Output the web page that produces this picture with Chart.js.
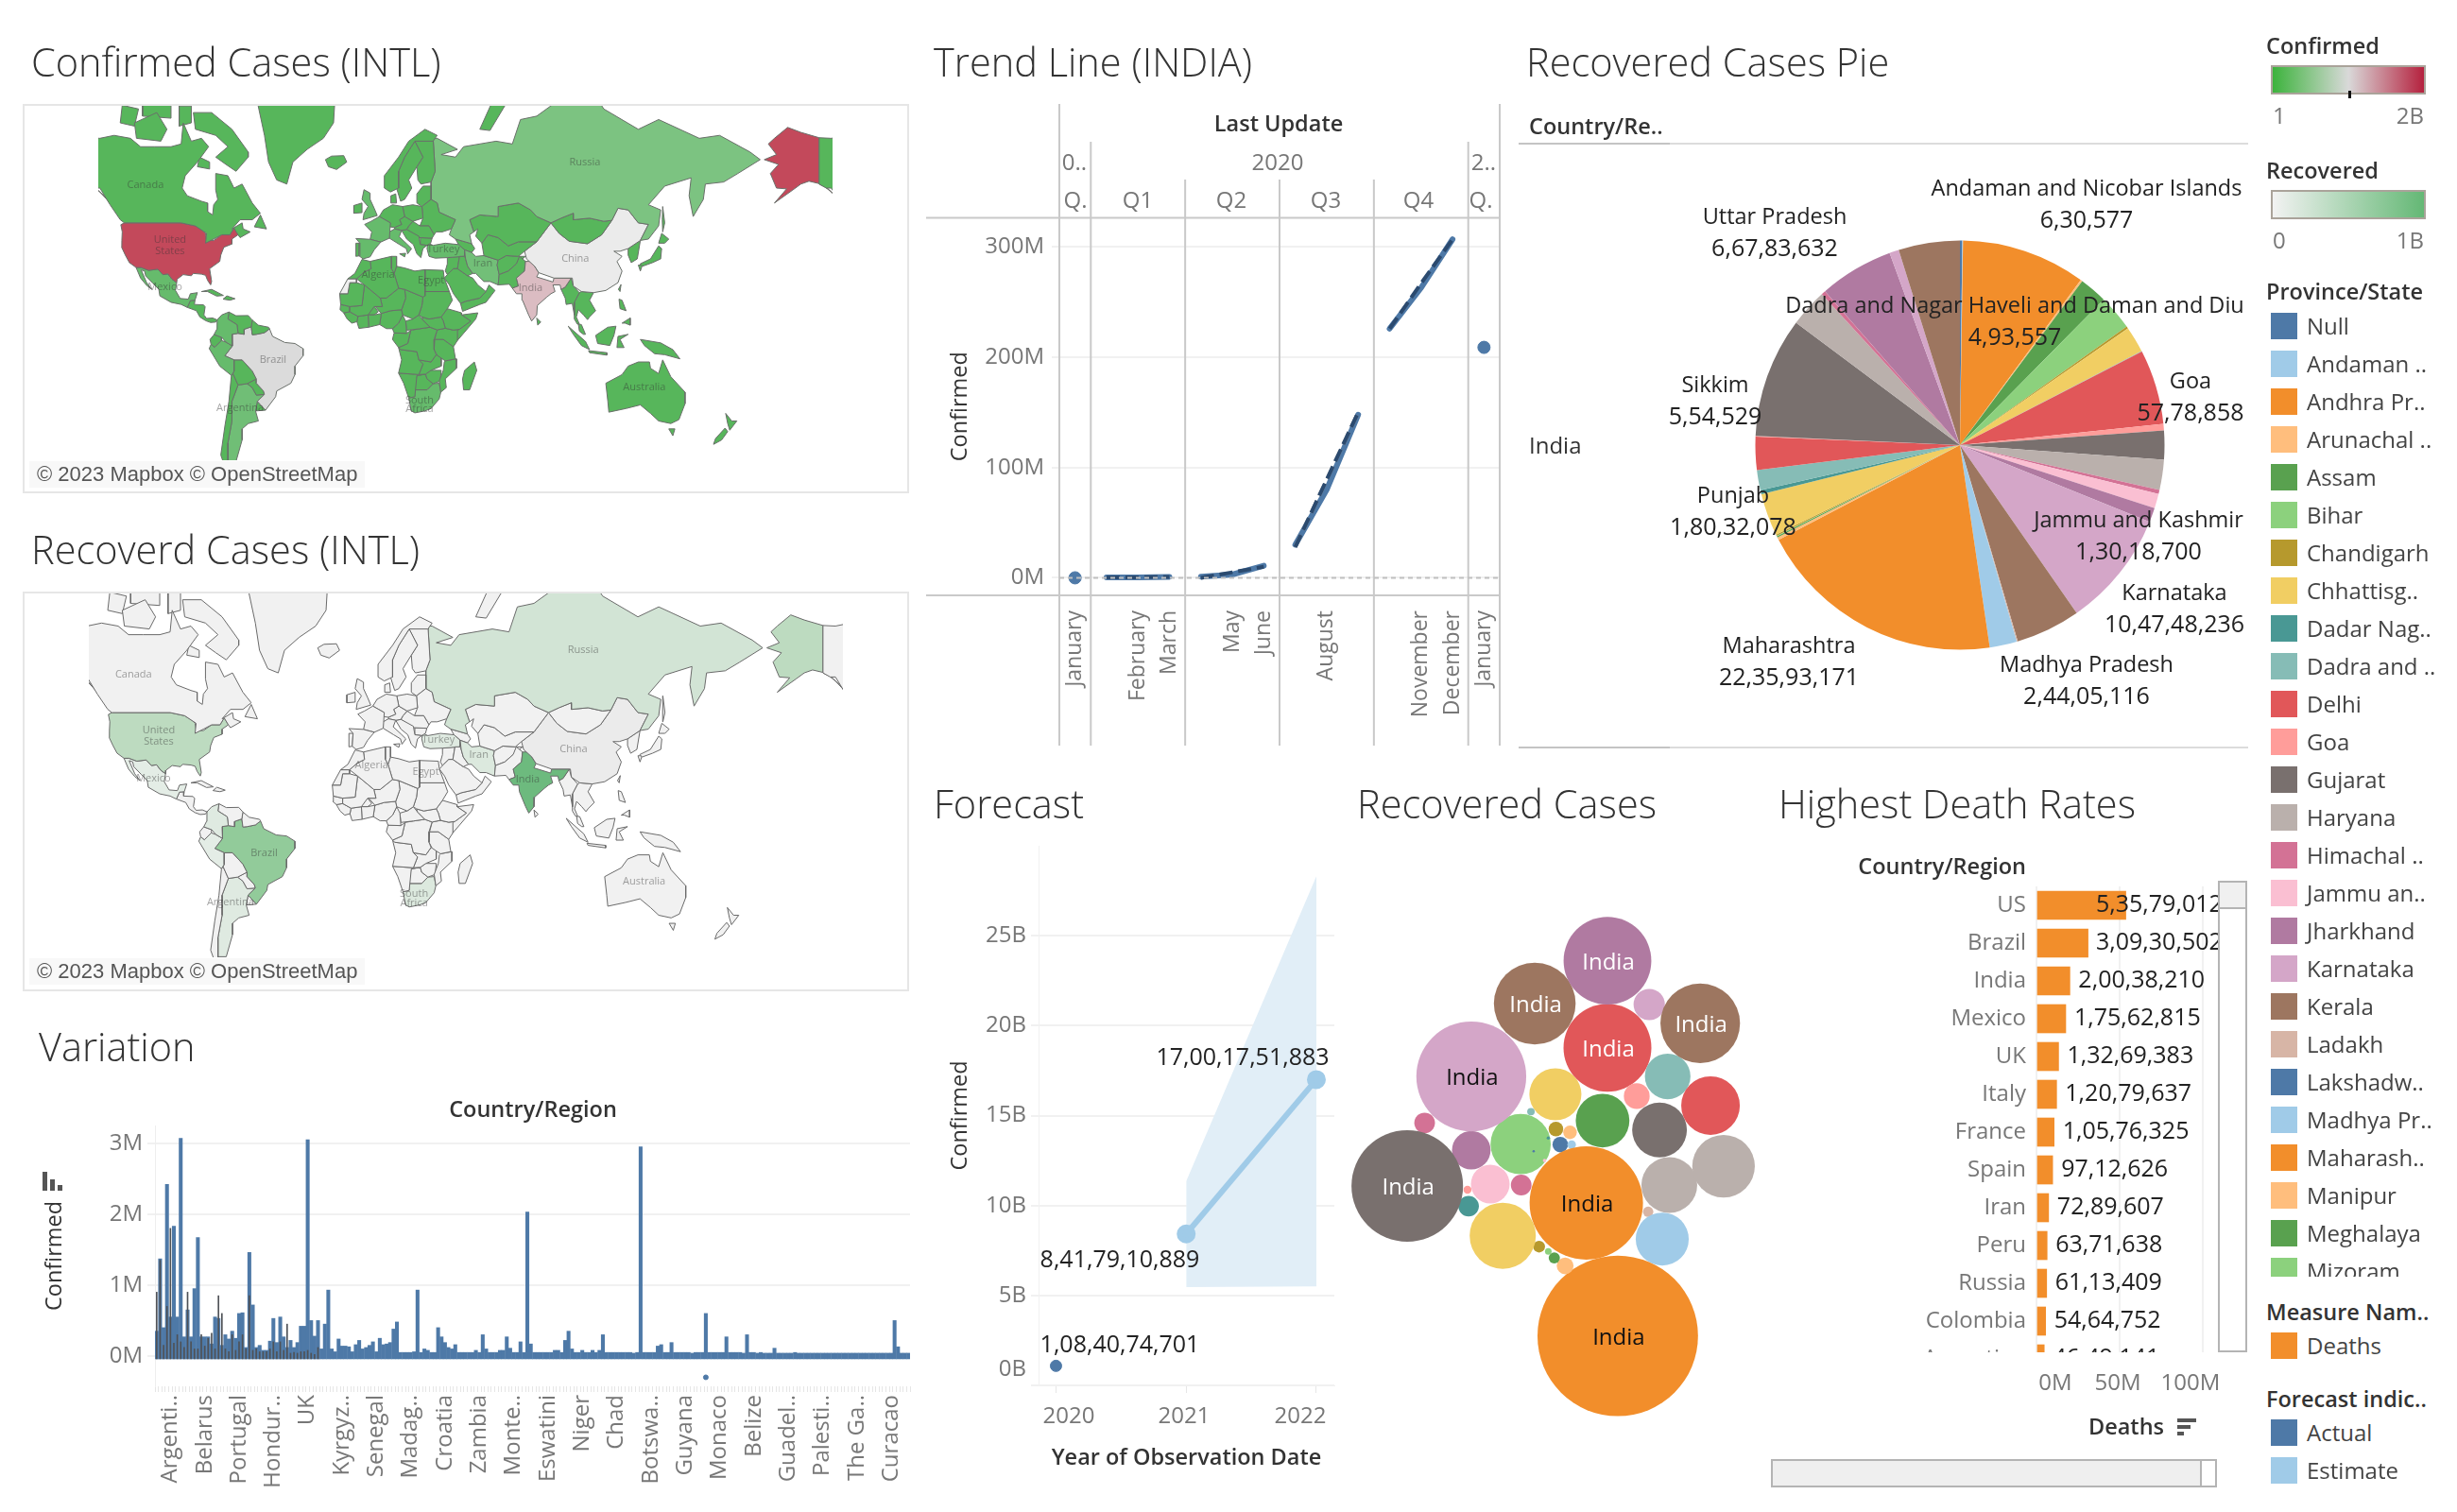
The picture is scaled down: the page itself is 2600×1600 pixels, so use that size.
<!DOCTYPE html>
<html>
<head>
<meta charset="utf-8">
<title>COVID-19 dashboard</title>
<script src="https://cdn.jsdelivr.net/npm/chart.js@4"></script>
<style>
  html, body { margin: 0; background: #fff; }
  body { position: relative; width: 2600px; height: 1600px; overflow: hidden; font-family: "Open Sans", sans-serif; }
  canvas { position: absolute; }
  .txt { position: absolute; white-space: nowrap; line-height: 1; }
  .box { position: absolute; box-sizing: border-box; }
</style>
</head>
<body>
<script>
// ---- data ----
const tableau20 = ['#4E79A7','#A0CBE8','#F28E2B','#FFBE7D','#59A14F','#8CD17D','#B6992D','#F1CE63','#499894','#86BCB6',
  '#E15759','#FF9D9A','#79706E','#BAB0AC','#D37295','#FABFD2','#B07AA1','#D4A6C8','#9D7660','#D7B5A6'];

const provinces = ['Null','Andaman and Nicobar Islands','Andhra Pradesh','Arunachal Pradesh','Assam','Bihar','Chandigarh','Chhattisgarh',
  'Dadar Nagar Haveli','Dadra and Nagar Haveli and Daman and Diu','Delhi','Goa','Gujarat','Haryana','Himachal Pradesh','Jammu and Kashmir',
  'Jharkhand','Karnataka','Kerala','Ladakh','Lakshadweep','Madhya Pradesh','Maharashtra','Manipur','Meghalaya','Mizoram','Nagaland','Odisha',
  'Puducherry','Punjab','Rajasthan','Sikkim','Tamil Nadu','Telangana','Tripura','Unknown','Uttar Pradesh','Uttarakhand','West Bengal'];
const recoveredValues = [2100000,630577,111600000,1600000,25000000,31500000,1850000,23500000,
  100000,493557,67000000,5778858,26000000,27000000,3700000,13018700,
  12900000,104748236,58000000,930000,50000,24405116,223593171,2450000,1100000,380000,1200000,38000000,
  3700000,18032078,29800000,554529,108000000,34000000,3700000,100000,66783632,8500000,55000000];
// packed bubble layout (axis units)
const bubbleX = [1169,1190,1217,1187,1247,1096,1161,1160,1147,1115,1256,1310,1352,1370,919,1040,1005,1005,1122,1331,1120,1357,1275,1178,1158,1147,1130,1063,1000,1367,1446,998,887,1470,1097,1140,1256,1333,1427];
const bubbleY = [786,786,910,760,735,785,753,679,772,716,580,683,755,872,740,870,798,641,486,929,800,987,1193,1044,1027,1013,1003,980,917,641,703,882,874,832,872,820,395,488,528];
const bubbleBlackLabels = ['Karnataka','Andhra Pradesh','Maharashtra'];

const legendProvinceNames = ['Null','Andaman ..','Andhra Pr..','Arunachal ..','Assam','Bihar','Chandigarh','Chhattisg..','Dadar Nag..','Dadra and ..',
  'Delhi','Goa','Gujarat','Haryana','Himachal ..','Jammu an..','Jharkhand','Karnataka','Kerala','Ladakh','Lakshadw..','Madhya Pr..','Maharash..','Manipur','Meghalaya','Mizoram'];

const deathCountries = ['US','Brazil','India','Mexico','UK','Italy','France','Spain','Iran','Peru','Russia','Colombia','Argentina'];
const deathValues = [53579012,30930502,20038210,17562815,13269383,12079637,10576325,9712626,7289607,6371638,6113409,5464752,4649141];

const forecastYears = [2020,2021,2022];
const forecastActual = [1.084,null,null];
const forecastEstimate = [null,8.418,17.0];
const forecastUpper = [null,11.35,28.3];
const forecastLower = [null,5.46,5.5];

const trendMonths = ['January','','February','March','','May','June','','August','','','November','December','January'];
const trendYTicks = [0,100,200,300];
const trendJan20 = [0,null,null,null,null,null,null,null,null,null,null,null,null,null];
const trendQ1 = [null,0.3,0.4,0.9,null,null,null,null,null,null,null,null,null,null];
const trendQ2 = [null,null,null,null,1,3,11,null,null,null,null,null,null,null];
const trendQ3 = [null,null,null,null,null,null,null,30,80,148,null,null,null,null];
const trendQ4 = [null,null,null,null,null,null,null,null,null,null,226,263,307,null];
const trendJan21 = [null,null,null,null,null,null,null,null,null,null,null,null,null,209];
const trendFitQ2 = [null,null,null,null,0,5,10,null,null,null,null,null,null,null];
const trendFitQ3 = [null,null,null,null,null,null,null,28,89,150,null,null,null,null];
const trendFitQ4 = [null,null,null,null,null,null,null,null,null,null,226,267,307,null];

const variationLabels = ['Argenti..','Belarus','Portugal','Hondur..','UK','Kyrgyz..','Senegal','Madag..','Croatia','Zambia','Monte..','Eswatini','Niger','Chad','Botswa..','Guyana','Monaco','Belize','Guadel..','Palesti..','The Ga..','Curacao'];
const variationYTicks = [0,1,2,3];
const variationValues = [
  .35,1.37,.4,2.42,.55,1.83,.55,3.07,.27,.65, .27,.95,1.67,.27,.27,.27,.17,.55,.53,.15,
  .3,.24,.35,.25,.6,.61,.12,1.46,.72,.12, .15,.08,.08,.21,.53,.19,.55,.27,.12,.22,
  .12,.19,.42,.42,3.05,.5,.28,.5,.1,.45, .93,.1,.06,.24,.14,.14,.13,.06,.16,.22,
  .1,.12,.15,.2,.06,.25,.16,.17,.19,.38, .48,.05,.05,.05,.05,.06,.93,.05,.1,.08,
  .05,.05,.4,.27,.19,.12,.1,.16,.05,.05, .05,.05,.05,.08,.05,.3,.1,.05,.05,.05,
  .08,.08,.27,.11,.05,.05,.2,.05,2.03,.17, .05,.05,.05,.05,.05,.05,.08,.08,.05,.22,
  .35,.1,.05,.05,.08,.05,.05,.08,.05,.08, .3,.05,.05,.05,.05,.05,.05,.05,.05,.04,
  .05,2.95,.05,.05,.05,.05,.14,.16,.05,.05, .19,.05,.05,.05,.05,.05,.04,.05,.05,.05,
  .6,.05,.05,.05,.05,.05,.27,.05,.05,.05, .05,.04,.3,.05,.05,.04,.05,.04,.04,.04,
  .11,.04,.04,.04,.04,.04,.05,.04,.04,.04, .04,.04,.04,.04,.04,.04,.04,.04,.04,.04,
  .04,.04,.04,.04,.04,.04,.04,.04,.04,.04, .04,.04,.04,.04,.04,.5,.13,.04,.04,.04];
const variationDarkIndex = [0,1,2,3,5,6,7,8,10,11,12,14,16,18,20,22,24,26,27,28,30,33,36,39,42,44,46,50,54,58,62,66,70,76,82,90,95,102,108,114,120,130,141,150,160,172,190,215];
const variationDarkValues = [.9,1.35,.15,.7,1.8,.18,.3,.2,.12,.9,.2,.1,.1,.3,.14,.25,.32,.1,.85,.6,.1,.06,.3,.08,.2,.3,.1,.85,.08,.1,.06,.06,.06,.1,.2,.06,.2,.08,.45,.04,.05,.04,.06,.06,.08,.04,.02,.12];
const variationNegIndex = 160;
const variationNegValue = -0.3;

// ---- map outlines, lon/lat pairs ----
const canada = [-141,69.6,-135,69.5,-128,70,-120,69.5,-115,68,-108,68,-100,68,-95,68.5,-94,72,-90,69,-85,69.5,-81.5,68,-87,65,-93,62,-94.5,59,-92,57,-85,55.5,-82,55,-82,52.5,-79.5,51.5,-79,54.5,-77,56,-78,58.5,-78,62.5,-72,62,-69,59,-65,60,-60,55,-56,52,-60,50,-66,50,-70,47,-65,49,-64.5,47,-61,46,-66,44,-67,45,-69,47.3,-71,45,-75,45,-79,43.5,-83,42,-82.5,45.5,-88,48,-95,49,-123,49,-125,50,-130,54.5,-135,59,-137.5,59,-141,60];
const baffin = [-62,66,-68,63,-73,64.5,-78,66,-72,68,-78,70,-88,71,-89,73.5,-80,73.5,-70,71,-62,67];
const victoriaIsland = [-117,69.5,-105,69,-102,71,-107,73.5,-118,72];
const banksIsland = [-125,72,-118,71.5,-116,74,-124,74.5];
const somersetIsland = [-96,71.5,-90,72,-90,74.4,-96,74.4];
const melvilleIsland = [-114,73,-100,72.7,-100,74.6,-114,74.6];
const southampton = [-87,64,-81,63.5,-81,65,-86,66];
const newfoundland = [-59,47.7,-56,51.5,-53,47];
const usa48 = [-124.7,48.4,-123,49,-95,49,-88,48,-84.5,46.5,-83,45.5,-82.5,43,-79,43,-75,45,-71,45,-69,47.3,-67,45,-70,43.5,-70,41.7,-74,40.5,-75.5,37.5,-76,35,-81,32,-80,26.5,-80.5,25,-82,27,-83,29.2,-85,29.7,-89,30,-90,29,-94,29.5,-97,27.5,-97.2,26,-99.5,27.5,-101.5,29.8,-104,29.5,-106.5,31.8,-111,31.3,-114.8,32.5,-117.2,32.5,-120.5,34.5,-122.5,37.5,-124.3,40.5,-124.2,43,-124,46];
const alaska = [-141,69.6,-150,70.5,-156.5,71.3,-163,69.5,-166,68.5,-162,66.5,-168,65.5,-161,64.5,-165,62.5,-162,59,-157,58.8,-163,55,-154,58.5,-150,60,-146,60.7,-140,60,-135,58,-130,55,-133,57,-137,59,-141,60];
const mexico = [-117.2,32.5,-114.8,32.5,-111,31.3,-106.5,31.8,-104,29.5,-101.5,29.8,-99.5,27.5,-97.2,26,-97.8,22.5,-95.5,18.8,-91.5,18.5,-90.5,21,-87,21.5,-88.2,18,-90.5,17.8,-92,14.6,-95,16,-100,17,-105.5,20,-106,23,-109,25.8,-112.5,29,-113,31,-114.7,31.5,-112,26,-109.5,23,-112,24.8,-115,28];
const centralAmerica = [-92,14.6,-90.5,17.8,-88.2,18,-88.5,16,-84,15.8,-83.2,14.9,-83.8,11,-82.5,9.3,-79.5,9.5,-77.3,8.6,-78,7.5,-80.5,7.3,-83,8.2,-85.8,10,-87.5,13];
const cuba = [-85,22,-80,23,-74.2,20.2,-77.5,19.9,-82,22];
const hispaniola = [-74.4,18.5,-72.5,20,-68.5,18.7,-71,18];
const greenland = [-73,78.3,-60,82,-30,83.5,-18,80,-20,72,-25,69.5,-33,67.5,-40,65,-43,60,-48,61,-52,65,-54,70,-58,75.5,-68,76];
const iceland = [-24,65.5,-21,66.2,-15,66.3,-13.5,65,-18.5,63.4,-22.5,64];
const colombia = [-77.3,8.6,-75,11,-71.5,12.4,-72,9,-67.5,6.2,-67,2,-70,1.5,-69.8,-4.2,-73,-2.3,-75,0,-78.8,1.4,-77.5,4];
const venezuela = [-71.5,12.4,-68,10.6,-62,10.7,-60,8.5,-60.5,5.2,-64,4,-64,1.5,-67,2,-67.5,6.2,-72,9];
const guianas = [-60,8.5,-57,6,-52,5,-51.5,4.2,-54,2.3,-58,1.5,-60,1.3,-60.5,5.2];
const ecuador = [-78.8,1.4,-75,0,-75.2,-1.5,-78.5,-4.8,-80.3,-3.4,-80.8,-1];
const peru = [-80.3,-3.4,-78.5,-4.8,-75.2,-1.5,-73,-2.3,-69.8,-4.2,-73.5,-9,-69,-11,-69,-16.5,-70.3,-18.4,-76,-14,-81.2,-5.5];
const brazil = [-60.5,5.2,-60,1.3,-58,1.5,-54,2.3,-51.5,4.2,-50,0.5,-44,-2.5,-39,-3,-35,-5.5,-35,-9,-39,-14,-39,-18,-41,-22,-48,-25.5,-48.5,-28,-53.5,-33.7,-57.5,-30,-54,-27,-54.5,-25.5,-58,-22,-58,-20,-60,-16.3,-65,-11,-69,-11,-73.5,-9,-69.8,-4.2,-70,1.5,-67,2,-64,1.5,-64,4];
const bolivia = [-69,-11,-65,-11,-60,-16.3,-58,-20,-62.5,-22.2,-67,-22.8,-69.5,-17.5,-69,-16.5];
const paraguay = [-58,-20,-58,-22,-54.5,-25.5,-54,-27,-58,-27.3,-60,-24,-62.5,-22.2];
const chile = [-70.3,-18.4,-69.5,-17.5,-67,-22.8,-70,-30,-70,-38,-72,-46,-72,-56,-75.5,-50,-73.5,-40,-71.5,-30];
const argentina = [-67,-22.8,-62.5,-22.2,-60,-24,-58,-27.3,-54,-27,-57.5,-30,-58.4,-34,-57,-38,-62,-39,-65,-41,-65,-45,-68,-52,-72,-52,-72,-46,-70,-38,-70,-30];
const uruguay = [-57.5,-30,-53.5,-33.7,-58.4,-34];
const morocco = [-13,27.7,-9.5,30,-6,35.8,-2,35,-1.5,32,-5,30.5,-8.7,27.7];
const westernSahara = [-17,21,-13,27.7,-8.7,27.7,-8.7,26,-12,26,-13,21];
const algeria = [-8.7,27.7,-5,30.5,-1.5,32,-2,35,8.5,37,8.5,32,9.8,30,12,23.5,6,19,3,19,-4.8,25];
const tunisia = [8.5,37,11,37,11,33,9.8,30,8.5,32];
const libya = [11,33,15,32.3,20,31,25,31.6,25,20,24,19.5,15,23,12,23.5,9.8,30];
const egypt = [25,31.6,34,31.3,34.5,28,37,22,25,22];
const mauritania = [-17,21,-13,21,-12,26,-8.7,26,-4.8,25,-6,15.5,-12,15,-16.5,16];
const mali = [-4.8,25,3,19,4,15,0,15,-3,11,-8,10.3,-12,12.5,-12,15,-6,15.5];
const niger = [3,19,6,19,12,23.5,15,23,15.5,19,13.5,13.5,8,13,3.5,11.7,0.5,15,4,15];
const chad = [15,23,24,19.5,23.5,15.5,22,11,19,9,14,11,13.5,13.5,15.5,19];
const sudan = [24,19.5,25,22,37,22,38.5,18,36,14,33,10,27,9,23.5,10,22,11,23.5,15.5];
const southSudan = [23.5,10,27,9,33,10,34,8,35,4.5,31,3.7,27.5,5,24,8.5];
const ethiopia = [36,14,43,12,43,11,47.5,8,42,4,39,3.6,35,4.5,34,8,33,10];
const somalia = [43,11,51,12,50,9,41,-1.5,41,3.5,42,4,47.5,8];
const senegal = [-16.5,16,-12,15,-12,12.5,-15,12,-16.8,13.5];
const guinea = [-15,12,-12,12.5,-8,10.3,-8.5,7.7,-11,7,-13.3,9];
const coteDIvoire = [-8,10.3,-3,11,-2.7,5,-7.5,4.4,-8.5,7.7];
const ghanaBenin = [-3,11,0,11,3.5,11.7,2.7,6.3,-2.7,5];
const burkina = [-5,11,-3,13.5,0,15,2,12.5,0,11];
const nigeria = [3.5,11.7,8,13,13.5,13.5,14,11,12,7,9,4.3,6,4.3,2.7,6.3];
const cameroon = [14,11,15.5,8,16,2,9.8,2.2,9,4.3,12,7];
const centralAfrica = [15.5,8,19,9,22,11,24,8.5,27.5,5,22,4.2,16,3.5];
const gabonCongo = [9.8,2.2,16,2,18,3.5,16.5,-3,12,-5,9,-1];
const drCongo = [18,3.5,22,4.2,27.5,5,31,3.7,29.5,-1,29.5,-6,30.5,-8.5,28,-12,22,-11,21,-7,13,-6,12,-5,16.5,-3];
const ugandaKenya = [31,3.7,35,4.5,39,3.6,42,4,41,-1.5,39,-4.6,34,-1,29.8,-1];
const tanzania = [29.8,-1,34,-1,39,-4.6,40,-10.5,35,-11.5,31,-8.8,29.5,-6];
const angola = [12,-5,13,-6,21,-7,22,-11,24,-13,22,-18,12,-17.3,13.5,-11];
const zambia = [22,-11,28,-12,30.5,-8.5,33,-9.5,33,-14,28,-16,25.3,-17.8,22,-18,24,-13];
const mozambique = [35,-11.5,40.5,-10.5,40.5,-15,35,-20,35.5,-24,32.8,-26,32,-21,34,-16,34.5,-12];
const zimbabwe = [25.3,-17.8,28,-16,33,-16,32.5,-21,29,-22.2,26,-20];
const namibia = [12,-17.3,22,-18,25.3,-17.8,21,-18.5,20,-28,17,-28.6,14.5,-22];
const botswana = [21,-18.5,25.3,-17.8,26,-20,29,-22.2,26,-25,20,-25,20,-22];
const southAfrica = [17,-28.6,20,-28,20,-25,26,-25,29,-22.2,32,-22,32.8,-26,32,-29,28,-33,25,-34,20,-34.8,18.3,-34];
const madagascar = [49.3,-12,50.5,-16,47,-25,44,-25,43.5,-20,44.5,-16];
const spain = [-9,43.7,-2,43.4,3.2,42.4,0,39.5,-2,36.8,-5.5,36,-7.4,37.2,-7,42];
const portugal = [-9,42,-7,42,-7.4,37.2,-9,37];
const france = [-4.7,48.5,-1.5,49.5,2.5,51,8,49,7.5,43.8,3.2,42.4,-2,43.4,-1.2,46];
const uk = [-5.5,50,1.5,51.3,0,53.5,-2,56,-2,57.7,-5,58.6,-6,56,-3,54,-5,52];
const ireland = [-10,52,-6,52.2,-6,55,-10,54.3];
const germanyBenelux = [2.5,51,4.5,53,9,54.5,14,54,15,51,12.5,50,13.5,48.5,10,47.5,7.5,47.7,8,49];
const denmark = [8.2,55,8.2,57,10.6,57.5,11,55];
const italy = [7.5,43.8,7,45.8,10,47,13.5,46.5,12.3,44.3,16,41.8,18.4,40,16.5,38,15.8,40,12.5,41.5];
const sicily = [12.5,38,15.5,38.2,15,36.8];
const poland = [14,54,19,54.5,23.5,54,24,50.5,19,49.5,15,51];
const czechAustria = [12.5,50,15,51,19,49.5,17,48,16,46.8,13.5,46.5,10,47,10,47.5,13.5,48.5];
const balkans = [13.5,46.5,16,46.8,22,44.5,22.7,41.5,26,41.2,24,40,23,36.5,21,38,19.3,41.5,16,43.5];
const hungaryRomania = [17,48,19,49.5,22.5,48,27,48,29.5,45,28.5,43.8,22,44,16,46.8];
const bulgaria = [22.7,44,28.5,43.8,27.8,42,26,41.2,22.7,41.5];
const ukraine = [23.5,54,28,56,31,55,32,52.3,40,50,38,47,33.5,46,30.5,46,29.5,45,27,48,22.5,48,24,50.5];
const baltics = [21,55,21,57.5,24,59.5,28,59.5,28,56,23.5,54];
const norway = [5,59,5,62,12,66,17,69,25,71,31,70,29,69,20,69,15,66,12,63,12,59,8,58];
const sweden = [11,59,12,63,15,66,20,69,24,66,21,64,17,61,18.5,59,15,56,13,55.5];
const finland = [20,69,29,69.5,30,63,28,60.5,23,60,21.5,61,21,64,24,66];
const russia = [28,59.5,28,56,31,55,32,52.3,40,50,38,47,37,45,40,43.5,48,41.8,47,45,49,46,47,50,52,51.5,61,51,61,54,71,55,77,53,80,51,87,49,92,50.5,98,52,98,50,106,50.5,113,49.5,117,49.8,120,53.5,125,53,130,49,135,48.5,131,43,135,43.5,140,48,141,53,135,54.5,143,59.5,156,61.5,155,57,157,51,162,56,163,60,172,60.5,179,62.5,190,65.5,185,67,170,70,160,69.5,140,72.5,130,71,113,74,104,77.5,90,75,80,73,72,72.5,68,68.5,60,69,44,68,40,66,33,66.5,41,67.5,31,69.5,29,69.5,30,63,28,60.5];
const sakhalin = [142,54,143,49,142,46,141.8,50];
const novayaZemlya = [52,71,57,70.8,68,76,60,76];
const kazakhstan = [47,50,52,51.5,61,51,61,54,71,55,77,53,80,51,87,49,80,42.5,71,42.5,66,41,61,44,56,45,53,42,50,44.5,51,47,49,46];
const centralAsia = [53,42,56,45,61,44,66,41,71,42.5,80,42.5,74,39,71,37,65,37.3,61,35.5,54,37.3];
const mongolia = [87,49,92,50.5,98,52,98,50,106,50.5,113,49.5,117,49.8,112,45,105,41.8,96,42.7,91,45.5];
const china = [74,39,80,42.5,87,49,91,45.5,96,42.7,105,41.8,112,45,117,49.8,120,53.5,125,53,130,49,135,48.5,131,43,125,40,121,39,118,39,122,37,119.5,35,122,31,120,26,114,22.5,108,21.5,102,22,98,24.5,97.5,28,88.5,28,81,30.3,79,33,75,36];
const korea = [125,40,131,43,129.5,36,126.5,34.5,125,37.5];
const honshu = [130.9,34,136,36,140,41,141.5,40,141,36,137,34.5,132,33];
const hokkaido = [140,42,141.5,45.5,145,43.5,143,42];
const kyushu = [130,33.5,132,33.5,131,31];
const taiwan = [120.2,23,121.5,25.2,121,22];
const india = [68,23.5,71,24.5,70,28,74,31,74.5,35,78,35,79,33,81,30.3,80,28.5,88,26.3,88.5,28,92,28,97,28,94,24,92,23,91.5,25,88,25,89,22,87,21,85,19.5,80.3,15.5,80,11,77.5,8,76,11,73,18,72.7,21,70,21];
const pakistan = [61,25,61.5,29.5,66,31,70,34,71.5,37,74.5,35,74,31,70,28,71,24.5,68,23.5,66.5,25.3];
const afghanistan = [61,35.5,65,37.3,71,37,74.5,37,70,34,66,31,61.5,29.5,60.5,33.5];
const iran = [44.5,39.5,48,38.5,50,37,54,37.3,61,35.5,60.5,33.5,61.5,29.5,61,25,57,26.5,54,26.5,50,30,48.5,30,46,33,45,36];
const iraq = [42,37,44.5,37,45,36,46,33,48.5,30,46,29,41,32];
const turkey = [26,40,26.5,42,29,41.2,35,42,41.5,41.5,44.5,39.5,44.5,37,36,36.5,30,36.3,27,37];
const caucasus = [40,43.5,48,41.8,49.5,40,48,38.5,44.5,39.5,41.5,41.5];
const saudiArabia = [34.5,28,36,29.5,39,32,41,32,46,29,48.5,28,51,25,55,22,52,19,45,17.5,42.5,16.5,39,21,37,25];
const syriaJordan = [36,36.5,42,37,41,32,39,32,36,29.5,35,31,36,34];
const omanYemen = [55,22,56.5,25,59.5,22.5,55,17,52,16,43.5,12.7,42.5,16.5,45,17.5,52,19];
const myanmar = [92,23,94,24,97,28,98,24.5,101,21.5,98.5,17,98.5,11,97.5,16.5,94.5,16,94,19];
const indochina = [98.5,17,101,21.5,102,22,108,21.5,106,18,109,13,106,10,105,8.7,103,11,100.5,13.5,99.5,10,101,6.5,100,6.5,98.5,9];
const malaya = [100.5,6.5,102,6.3,104,1.5,103,1.5,101,3];
const borneo = [109,1,115,5,119,5.5,118,1,116,-4,110,-3];
const sumatra = [95.5,5.5,104,-2,106,-6,102,-4,98,1.5];
const java = [105.5,-6.5,114.5,-7.5,114.5,-8.7,106,-7.5];
const sulawesi = [119.5,-5,120,.5,125,1.5,121,-1,123,-5];
const newGuinea = [131,-1,141,-2.7,147,-6,150.5,-10.5,143,-8.5,138,-8,133,-4];
const luzon = [120.5,18.5,122,18,124,13,121,14];
const mindanao = [122,7,126,9.5,126,6,123.5,7];
const sriLanka = [80,9.5,82,7.5,80.5,6];
const australia = [114,-22,122,-18,125,-14,130,-12,135.5,-12,136,-15,140,-17.5,142,-11,146,-19,153,-26,153,-31,150,-37.5,146,-39,140,-38,136,-35,131,-31.5,124,-33,115.5,-34.5,115,-30];
const tasmania = [145,-41,148,-41,147,-43.5];
const nzNorth = [173,-35,176,-38,178.5,-38,175,-41.5,174,-39];
const nzSouth = [172.7,-40.7,174,-42,171,-45,167,-46.5,168,-44.5];

const mapShapes = {canada,baffin,victoriaIsland,banksIsland,somersetIsland,melvilleIsland,southampton,newfoundland,usa48,alaska,mexico,centralAmerica,cuba,hispaniola,greenland,iceland,
  colombia,venezuela,guianas,ecuador,peru,brazil,bolivia,paraguay,chile,argentina,uruguay,
  morocco,westernSahara,algeria,tunisia,libya,egypt,mauritania,mali,niger,chad,sudan,southSudan,ethiopia,somalia,senegal,guinea,coteDIvoire,ghanaBenin,burkina,nigeria,cameroon,centralAfrica,gabonCongo,drCongo,ugandaKenya,tanzania,angola,zambia,mozambique,zimbabwe,namibia,botswana,southAfrica,madagascar,
  spain,portugal,france,uk,ireland,germanyBenelux,denmark,italy,sicily,poland,czechAustria,balkans,hungaryRomania,bulgaria,ukraine,baltics,norway,sweden,finland,
  russia,sakhalin,novayaZemlya,kazakhstan,centralAsia,mongolia,china,korea,honshu,hokkaido,kyushu,taiwan,india,pakistan,afghanistan,iran,iraq,turkey,caucasus,saudiArabia,syriaJordan,omanYemen,
  myanmar,indochina,malaya,borneo,sumatra,java,sulawesi,newGuinea,luzon,mindanao,sriLanka,australia,tasmania,nzNorth,nzSouth};
// Tableau repeats the world, these also show up one turn further on
const wrappedEast = ['alaska','canada','baffin'];

const confirmedFills = {usa48:'#C3495B',alaska:'#C3495B',india:'#DBBCC2',china:'#EBEBEB',brazil:'#DBDBDB',russia:'#7CC381',argentina:'#70BE76',
  colombia:'#66BB6C',peru:'#66BB6C',mexico:'#66BB6C',iran:'#72BF78',turkey:'#66BB6C',france:'#66BB6C',uk:'#66BB6C',spain:'#66BB6C',italy:'#66BB6C',southAfrica:'#66BB6C',westernSahara:'#EFEFEF'};
const recoveredFills = {usa48:'#BDDBC0',alaska:'#BDDBC0',india:'#6DBA7E',brazil:'#92CB9A',russia:'#D2E4D5',argentina:'#DFEAE1',colombia:'#DFEAE1',
  mexico:'#E4EDE6',iran:'#DCE9DE',turkey:'#DFEAE1',southAfrica:'#DCE9DE',peru:'#E4EDE6',china:'#EBEBEB'};

// faint basemap names
const mapPlaceNames = ['Canada','United','States','Mexico','Brazil','Argentina','Algeria','Egypt','South','Africa','Turkey','Iran','Russia','China','India','Australia'];
const mapPlaceLons = [-112.6,-100.5,-100.5,-103,-49.8,-66,1.9,28,22.3,22.3,34,53.5,103.7,99,77,133];
const mapPlaceLats = [59.7,43.2,39,24,-11.2,-33,29.4,26.8,-29.6,-33.2,39.6,34,65,36,23.5,-24];

// ---- helpers ----
Chart.defaults.animation = false;
Chart.defaults.responsive = false;
Chart.defaults.font.family = '"Open Sans", sans-serif';
Chart.defaults.plugins.legend.display = false;
Chart.defaults.plugins.tooltip.enabled = false;

const GRID = '#f1f1f1';
const TICK = '#777';
const body = document.body;

function addCanvas(x, y, w, h) {
  const c = document.createElement('canvas');
  c.width = w; c.height = h;
  c.style.left = x + 'px'; c.style.top = y + 'px';
  body.appendChild(c);
  return c;
}
function addText(text, x, y, o = {}) {
  const el = document.createElement('div');
  el.className = 'txt';
  el.textContent = text;
  const shift = {left: '0', center: '-50%', right: '-100%'}[o.align || 'left'];
  el.style.cssText += `left:${x}px;top:${y}px;transform:translate(${shift},-50%);font-size:${o.size || 23.5}px;` +
    `color:${o.color || '#222'};font-weight:${o.weight || 400};z-index:5;` + (o.family ? `font-family:${o.family};` : '');
  (o.parent || body).appendChild(el);
  return el;
}
function addBox(x, y, w, h, style) {
  const el = document.createElement('div');
  el.className = 'box';
  el.style.cssText += `left:${x}px;top:${y}px;width:${w}px;height:${h}px;` + style;
  body.appendChild(el);
  return el;
}
function title(text, x, y) { addText(text, x, y, {size: 41.5, weight: 300, color: '#333'}); }
// keeps the plot area where it was put, whatever the tick labels measure
function fixedAxis(s, size) {
  if (s.isHorizontal()) s.height = size; else s.width = size;
  s.paddingTop = s.paddingBottom = s.paddingLeft = s.paddingRight = 0;
}

// ---- maps ----
const mercator = lat => Math.log(Math.tan(Math.PI / 4 + lat * Math.PI / 360));
function shapePoints(flat, lonShift) {
  const pts = [];
  for (let i = 0; i < flat.length; i += 2) pts.push({x: flat[i] + lonShift, y: mercator(flat[i + 1])});
  pts.push(pts[0]);
  return pts;
}
const polygonFill = {
  id: 'polygonFill',
  beforeDatasetDraw(chart, args) {
    const {ctx} = chart;
    const pts = args.meta.data;
    ctx.save();
    ctx.beginPath();
    pts.forEach((p, i) => i ? ctx.lineTo(p.x, p.y) : ctx.moveTo(p.x, p.y));
    ctx.closePath();
    ctx.fillStyle = args.meta.dataset.options.backgroundColor;
    ctx.fill();
    ctx.restore();
  },
  afterDatasetsDraw(chart) {
    const {ctx, scales} = chart;
    ctx.save();
    ctx.font = '11px "Open Sans"';
    ctx.fillStyle = 'rgba(50,50,50,0.45)';
    ctx.textAlign = 'center';
    ctx.textBaseline = 'middle';
    mapPlaceNames.forEach((name, i) => {
      ctx.fillText(name, scales.x.getPixelForValue(mapPlaceLons[i]), scales.y.getPixelForValue(mercator(mapPlaceLats[i])));
    });
    ctx.restore();
  }
};
function drawMap(rect, view, fills, defaultFill, outline) {
  const datasets = [];
  for (const name of Object.keys(mapShapes)) {
    const shifts = wrappedEast.includes(name) ? [0, 360] : [0];
    for (const s of shifts) {
      datasets.push({
        data: shapePoints(mapShapes[name], s), showLine: true, pointRadius: 0, borderWidth: 1,
        borderColor: outline, backgroundColor: fills[name] || defaultFill, tension: 0
      });
    }
  }
  new Chart(addCanvas(rect.x, rect.y, rect.w, rect.h), {
    type: 'scatter',
    data: {datasets},
    options: {layout: {autoPadding: false}, scales: {
      x: {type: 'linear', display: false, min: view.lonMin, max: view.lonMax},
      y: {type: 'linear', display: false, min: view.yMin, max: view.yMax}
    }},
    plugins: [polygonFill]
  });
}

title('Confirmed Cases (INTL)', 33, 66);
addBox(24, 110, 938, 412, 'border:2px solid #e6e6e6;');
drawMap({x: 104, y: 112, w: 777, h: 375}, {lonMin: -135.8, lonMax: 225.6, yMin: -1.055, yMax: 1.989}, confirmedFills, '#57B65B', '#6a6f6a');
addBox(31, 488, 355, 28, 'background:#f8f8f8;');
addText('© 2023 Mapbox © OpenStreetMap', 39, 502, {size: 22, color: '#555', family: '"Liberation Sans"'});

title('Recoverd Cases (INTL)', 33, 582);
addBox(24, 626, 938, 423, 'border:2px solid #e6e6e6;');
drawMap({x: 94, y: 628, w: 798, h: 385}, {lonMin: -134.1, lonMax: 228.6, yMin: -1.071, yMax: 1.984}, recoveredFills, '#F1F1F1', '#6a6a6a');
addBox(31, 1014, 355, 28, 'background:#f8f8f8;');
addText('© 2023 Mapbox © OpenStreetMap', 39, 1028, {size: 22, color: '#555', family: '"Liberation Sans"'});

// ---- variation ----
title('Variation', 41, 1108);
addText('Country/Region', 564, 1174, {align: 'center', weight: 600, size: 23.5, color: '#333'});
const variationCategories = variationValues.map((v, i) => i % 10 === 4 ? variationLabels[(i - 4) / 10] : '');
new Chart(addCanvas(30, 1180, 945, 420), {
  data: {
    labels: variationCategories,
    datasets: [
      {type: 'line', data: variationValues.map((v, i) => i === variationNegIndex ? variationNegValue : null), showLine: false, pointRadius: 2.5, backgroundColor: '#4E79A7', borderColor: '#4E79A7'},
      {type: 'bar', data: variationDarkIndex.map((x, i) => ({x, y: variationDarkValues[i]})), backgroundColor: '#4f5257', barThickness: 1, grouped: false, order: 0, base: -0.04},
      {type: 'bar', data: variationValues, backgroundColor: '#4E79A7', barThickness: 3.4, grouped: false, order: 1, base: -0.04}
    ]
  },
  options: {
    layout: {padding: {top: 11, right: 12}, autoPadding: false},
    scales: {
      x: {
        offset: true, border: {display: false},
        grid: {drawOnChartArea: false, tickLength: 6, color: '#e6e6e6'},
        ticks: {autoSkip: false, minRotation: 90, maxRotation: 90, padding: 3, color: TICK, font: {size: 24}},
        afterFit(s) { fixedAxis(s, 133); }
      },
      y: {
        min: -0.427, max: 3.25,
        border: {color: '#eee'},
        grid: {color: GRID, lineWidth: 2, tickLength: 8},
        afterBuildTicks(s) { s.ticks = variationYTicks.map(value => ({value})); },
        ticks: {padding: 5, color: TICK, font: {size: 24}, callback: v => v + 'M'},
        title: {display: true, text: 'Confirmed', color: '#333', font: {size: 23.5}, padding: {top: 14, bottom: 0}},
        afterFit(s) { fixedAxis(s, 134); }
      }
    }
  }
});
[[45,20],[53,12],[61,6]].forEach(([x, h]) => addBox(x, 1260 - h, 5, h, 'background:#555;'));

// ---- trend line ----
title('Trend Line (INDIA)', 988, 66);
const paneEdges = [0, 1, 4, 7, 10, 13, 14];
const paneTops = [110, 150, 190, 190, 190, 150, 110];
const trendPanes = {
  id: 'trendPanes',
  afterDraw(chart) {
    const {ctx, chartArea: a} = chart;
    const step = (a.right - a.left) / 14;
    ctx.save();
    ctx.strokeStyle = '#c9c9c9';
    ctx.lineWidth = 2;
    paneEdges.forEach((e, i) => {
      const x = a.left + e * step;
      ctx.beginPath(); ctx.moveTo(x, paneTops[i] - 100); ctx.lineTo(x, 689); ctx.stroke();
    });
    [a.top, a.bottom].forEach(y => {
      ctx.beginPath(); ctx.moveTo(0, y); ctx.lineTo(a.right, y); ctx.stroke();
    });
    ctx.setLineDash([5, 4]);
    ctx.strokeStyle = '#c0c0c0';
    const y0 = chart.scales.y.getPixelForValue(0);
    ctx.beginPath(); ctx.moveTo(a.left, y0); ctx.lineTo(a.right, y0); ctx.stroke();
    ctx.restore();
  }
};
const trendLine = data => ({data, borderColor: '#4E79A7', borderWidth: 6, pointRadius: 0, borderCapStyle: 'round', tension: 0});
const trendDash = (data, color) => ({data, borderColor: color, borderWidth: 4, borderDash: [14, 6], pointRadius: 0, tension: 0});
const trendDot = data => ({data, pointRadius: 6.5, backgroundColor: '#4E79A7', borderColor: '#4E79A7', showLine: false});
new Chart(addCanvas(980, 100, 630, 700), {
  type: 'line',
  data: {
    labels: trendMonths,
    datasets: [
      trendDot(trendJan20), trendDot(trendJan21),
      trendDash(trendQ1, '#2b4a6f'), trendDash(trendFitQ2, '#2b4a6f'), trendDash(trendFitQ3, '#2b4a6f'), trendDash(trendFitQ4, '#2b4a6f'),
      trendDash(trendFitQ3, '#999'),
      trendLine(trendQ1), trendLine(trendQ2), trendLine(trendQ3), trendLine(trendQ4)
    ]
  },
  options: {
    layout: {padding: {top: 130.5, right: 23}, autoPadding: false},
    scales: {
      x: {
        offset: true, border: {display: false}, grid: {display: false},
        ticks: {autoSkip: false, minRotation: 90, maxRotation: 90, padding: 8, color: TICK, font: {size: 23}},
        afterFit(s) { fixedAxis(s, 170); }
      },
      y: {
        min: -15.9, max: 326.5,
        border: {display: false},
        grid: {color: GRID, lineWidth: 2, tickLength: 8},
        afterBuildTicks(s) { s.ticks = trendYTicks.map(value => ({value})); },
        ticks: {padding: 8, color: TICK, font: {size: 24}, callback: v => v + 'M'},
        title: {display: true, text: 'Confirmed', color: '#333', font: {size: 23.5}, padding: {top: 22, bottom: 0}},
        afterFit(s) { fixedAxis(s, 141); }
      }
    }
  },
  plugins: [trendPanes]
});
addText('Last Update', 1353, 131, {align: 'center', weight: 600, size: 23.5, color: '#333'});
[['0..',1137],['2020',1352],['2..',1570]].forEach(([t, x]) => addText(t, x, 171, {align: 'center', size: 24, color: TICK}));
[['Q.',1138],['Q1',1204],['Q2',1303],['Q3',1403],['Q4',1501],['Q.',1567]].forEach(([t, x]) => addText(t, x, 211, {align: 'center', size: 24, color: TICK}));

// ---- pie ----
title('Recovered Cases Pie', 1615, 66);
addBox(1607, 151, 160, 2, 'background:#c4c4c4;');
addBox(1767, 151, 612, 2, 'background:#dcdcdc;');
addBox(1607, 790, 160, 2, 'background:#c4c4c4;');
addBox(1767, 790, 612, 2, 'background:#dcdcdc;');
addText('Country/Re..', 1618, 134, {weight: 600, size: 23.5, color: '#333'});
addText('India', 1618, 471, {size: 24, color: '#333'});
new Chart(addCanvas(1854, 251, 440, 440), {
  type: 'pie',
  data: {labels: provinces, datasets: [{data: recoveredValues, backgroundColor: provinces.map((p, i) => tableau20[i % 20]), borderWidth: 0}]},
  options: {radius: 216.5, layout: {padding: 0}}
});
[['Uttar Pradesh','6,67,83,632',1878,229],['Andaman and Nicobar Islands','6,30,577',2208,199],
 ['Dadra and Nagar Haveli and Daman and Diu','4,93,557',2132,323],['Sikkim','5,54,529',1815,407],
 ['Goa','57,78,858',2318,403],['Punjab','1,80,32,078',1834,524],['Jammu and Kashmir','1,30,18,700',2263,550],
 ['Karnataka','10,47,48,236',2301,627],['Madhya Pradesh','2,44,05,116',2208,703],['Maharashtra','22,35,93,171',1893,683]
].forEach(([name, val, x, y]) => {
  addText(name, x, y, {align: 'center'});
  addText(val, x, y + 32, {align: 'center', size: 25});
});

// ---- forecast ----
title('Forecast', 988, 851);
const forecastPoints = series => forecastYears.map((x, i) => ({x, y: series[i]}));
new Chart(addCanvas(980, 885, 450, 680), {
  type: 'line',
  data: {datasets: [
    {data: forecastPoints(forecastEstimate), borderColor: '#A0CBE8', backgroundColor: '#A0CBE8', borderWidth: 6, pointRadius: 7, tension: 0},
    {data: forecastPoints(forecastActual), borderColor: '#4E79A7', backgroundColor: '#4E79A7', pointRadius: 6},
    {data: forecastPoints(forecastUpper), borderWidth: 0, pointRadius: 0, fill: '+1', backgroundColor: '#e1eef7', tension: 0},
    {data: forecastPoints(forecastLower), borderWidth: 0, pointRadius: 0, tension: 0}
  ]},
  options: {
    layout: {padding: {top: 10, right: 18}, autoPadding: false},
    plugins: {filler: {drawTime: 'beforeDatasetsDraw'}},
    scales: {
      x: {
        type: 'linear', min: 2019.866, max: 2022.138,
        border: {color: GRID},
        grid: {drawOnChartArea: false, color: '#e6e6e6', tickLength: 8},
        afterBuildTicks(s) { s.ticks = forecastYears.map(value => ({value})); },
        ticks: {display: false},
        title: {display: true, text: 'Year of Observation Date', color: '#333', font: {size: 23.5, weight: 600}, padding: {top: 0, bottom: 8}},
        afterFit(s) { fixedAxis(s, 99); }
      },
      y: {
        min: 0, max: 30,
        border: {color: GRID},
        grid: {color: GRID, lineWidth: 2, tickLength: 8},
        afterBuildTicks(s) { s.ticks = [0, 5, 10, 15, 20, 25].map(value => ({value})); },
        ticks: {padding: 5, color: TICK, font: {size: 24}, callback: v => v === 0 ? '' : v + 'B'},
        title: {display: true, text: 'Confirmed', color: '#333', font: {size: 23.5}, padding: {top: 22, bottom: 0}},
        afterFit(s) { fixedAxis(s, 119); }
      }
    }
  }
});
addText('0B', 1086, 1447, {align: 'right', size: 24, color: TICK});
[['2020',1131],['2021',1253],['2022',1376]].forEach(([t, x]) => addText(t, x, 1497, {align: 'center', size: 24, color: TICK}));
addText('17,00,17,51,883', 1315, 1117, {align: 'center', size: 25});
addText('8,41,79,10,889', 1185, 1331, {align: 'center', size: 25});
addText('1,08,40,74,701', 1185, 1421, {align: 'center', size: 25});

// ---- packed bubbles ----
title('Recovered Cases', 1436, 851);
const bubbleLabels = {
  id: 'bubbleLabels',
  afterDatasetsDraw(chart) {
    const {ctx} = chart;
    const meta = chart.getDatasetMeta(0);
    ctx.save();
    ctx.font = '24px "Open Sans"';
    ctx.textAlign = 'center';
    ctx.textBaseline = 'middle';
    meta.data.forEach((el, i) => {
      if (recoveredValues[i] < 50000000) return;
      ctx.fillStyle = bubbleBlackLabels.includes(provinces[i]) ? '#111' : '#fff';
      ctx.fillText('India', el.x + 1, el.y + 2);
    });
    ctx.restore();
  }
};
new Chart(addCanvas(1420, 950, 460, 600), {
  type: 'bubble',
  data: {datasets: [{
    data: provinces.map((p, i) => ({x: bubbleX[i], y: bubbleY[i], r: 5.68 * Math.sqrt(recoveredValues[i] / 1e6)})),
    backgroundColor: provinces.map((p, i) => tableau20[i % 20]),
    borderWidth: 0, clip: false
  }]},
  options: {layout: {autoPadding: false}, scales: {
    x: {display: false, min: 766.5, max: 1567.8},
    y: {display: false, min: 261, max: 1467, reverse: true}
  }},
  plugins: [bubbleLabels]
});

// ---- death bars ----
title('Highest Death Rates', 1882, 851);
addText('Country/Region', 2144, 917, {align: 'right', weight: 600, size: 23.5, color: '#333'});
const deathDecor = {
  id: 'deathDecor',
  afterDatasetsDraw(chart) {
    const {ctx} = chart;
    ctx.save();
    ctx.font = '25px "Open Sans"';
    ctx.fillStyle = '#222';
    ctx.textBaseline = 'middle';
    chart.getDatasetMeta(0).data.forEach((el, i) => {
      // the longest label slides back over its own bar, as Tableau does
      ctx.fillText(deathValues[i].toLocaleString('en-IN'), Math.min(el.x + 9, 318), el.y);
    });
    ctx.restore();
  },
  afterDraw(chart) { chart.ctx.clearRect(0, 493, chart.width, 30); }
};
new Chart(addCanvas(1900, 938, 447, 520), {
  type: 'bar',
  data: {labels: deathCountries, datasets: [{data: deathValues.map(v => v / 1e6), backgroundColor: '#F28E2B', barThickness: 30}]},
  options: {
    indexAxis: 'y',
    layout: {autoPadding: false},
    scales: {
      x: {
        min: 0, max: 108.8,
        border: {display: false},
        grid: {color: GRID, lineWidth: 2, drawTicks: false},
        afterBuildTicks(s) { s.ticks = [0, 50, 100].map(value => ({value})); },
        ticks: {display: false},
        afterFit(s) { fixedAxis(s, 0); }
      },
      y: {
        border: {display: false},
        grid: {display: false, drawTicks: false},
        ticks: {padding: 11, color: TICK, font: {size: 24}, autoSkip: false},
        afterFit(s) { fixedAxis(s, 255); }
      }
    }
  },
  plugins: [deathDecor]
});
[['0M',2175],['50M',2241],['100M',2318]].forEach(([t, x]) => addText(t, x, 1462, {align: 'center', size: 24, color: TICK}));
addText('Deaths', 2250, 1510, {align: 'center', weight: 600, size: 23.5, color: '#333'});
[20,14,7].forEach((w, i) => addBox(2304, 1501 + i * 7, w, 3.5, 'background:#555;'));
// scrollbars
addBox(2347, 932, 31, 499, 'border:2.5px solid #b4b4b4;background:#fff;');
addBox(2347, 932, 31, 30, 'border:2.5px solid #b4b4b4;background:#f0f0f0;');
addBox(1874, 1544, 472, 30, 'border:2.5px solid #b4b4b4;background:#efefef;');
addBox(2328, 1544, 18, 30, 'border:2.5px solid #b4b4b4;background:#fff;');

// ---- legends ----
const legendHead = (t, y) => addText(t, 2398, y, {weight: 600, size: 23.5, color: '#333'});
const legendItem = (parent, t, color, y) => {
  const s = document.createElement('div');
  s.className = 'box';
  s.style.cssText += `left:2403px;top:${y - 14}px;width:28px;height:28px;background:${color};`;
  parent.appendChild(s);
  addText(t, 2441, y, {size: 24, color: '#444', parent});
};
legendHead('Confirmed', 49);
addBox(2403, 69, 164, 31, 'border:2px solid #aaa39a;background:linear-gradient(90deg,#3cb33c,#d9d9d9 50%,#b5213e);');
addBox(2485, 96, 3, 8, 'background:#111;');
addText('1', 2405, 122, {size: 24, color: TICK});
addText('2B', 2565, 122, {size: 24, color: TICK, align: 'right'});
legendHead('Recovered', 181);
addBox(2403, 201, 164, 31, 'border:2px solid #aaa39a;background:linear-gradient(90deg,#f2f2f2,#64b875);');
addText('0', 2405, 254, {size: 24, color: TICK});
addText('1B', 2565, 254, {size: 24, color: TICK, align: 'right'});
legendHead('Province/State', 309);
const legendClip = addBox(0, 0, 2600, 1351, 'overflow:hidden;');
legendProvinceNames.forEach((t, i) => legendItem(legendClip, t, tableau20[i % 20], 344.5 + 40 * i));
legendHead('Measure Nam..', 1389);
legendItem(body, 'Deaths', '#F28E2B', 1424);
legendHead('Forecast indic..', 1481);
legendItem(body, 'Actual', '#4E79A7', 1516);
legendItem(body, 'Estimate', '#A0CBE8', 1556);
</script>
</body>
</html>
